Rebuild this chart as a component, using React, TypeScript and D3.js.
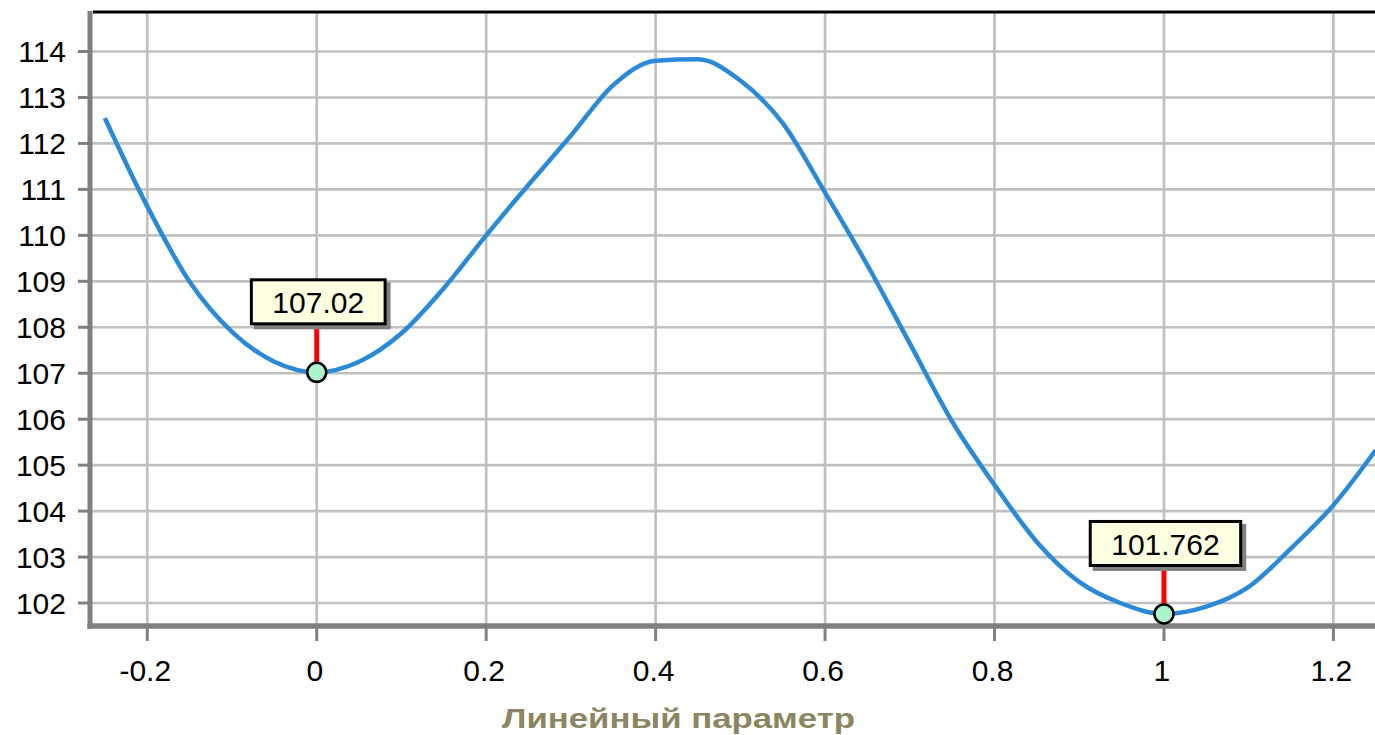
import React from "react";
import * as d3 from "d3";

// sampled curve (step 0.05)
const xValues = [
  -0.25, -0.2, -0.15, -0.1, -0.05, 0, 0.05, 0.1, 0.15, 0.2, 0.25, 0.3, 0.35, 0.4, 0.45, 0.5,
  0.55, 0.6, 0.65, 0.7, 0.75, 0.8, 0.85, 0.9, 0.95, 1.0, 1.05, 1.1, 1.15, 1.2, 1.25,
];
const yValues = [
  112.55, 110.63, 108.99, 107.9, 107.25, 107.02, 107.25, 107.87, 108.85, 110.0, 111.1, 112.17,
  113.27, 113.8, 113.83, 113.37, 112.44, 110.93, 109.35, 107.65, 105.95, 104.57, 103.33, 102.46,
  101.99, 101.762, 101.92, 102.35, 103.19, 104.13, 105.33,
];

const xTicks = [-0.2, 0, 0.2, 0.4, 0.6, 0.8, 1, 1.2];
const yTicks = [102, 103, 104, 105, 106, 107, 108, 109, 110, 111, 112, 113, 114];

const markerX = [0, 1];
const markerLabels = ["107.02", "101.762"];

const axisTitle = "Линейный параметр";

const W = 1375;
const H = 735;
const left = 90;
const right = 1375;
const top = 12;
const bottom = 626;

const FONT = "'Liberation Sans', Arial, sans-serif";

function textWidth(s: string, size: number) {
  let w = 0;
  for (const c of s) w += c === "." ? 0.278 : 0.556;
  return w * size;
}

export default function App() {
  const x = d3.scaleLinear().domain([-0.2676, 1.2491]).range([left, right]);
  const y = d3.scaleLinear().domain([101.5, 114.86]).range([bottom, top]);

  const data = xValues.map((v, i) => [v, yValues[i]] as [number, number]);
  const line = d3
    .line<[number, number]>()
    .curve(d3.curveMonotoneX)
    .x(d => x(d[0]))
    .y(d => y(d[1]));

  return (
    <div style={{ position: "absolute", left: 0, top: 0 }}>
      <svg width={W} height={H} style={{ display: "block", background: "#fff" }}>
        <defs>
          <clipPath id="plot">
            <rect x={left} y={top} width={right - left} height={bottom - top} />
          </clipPath>
        </defs>

        {/* grid */}
        {yTicks.map(t => (
          <line key={`gy${t}`} x1={left} x2={right} y1={y(t)} y2={y(t)} stroke="#c0c0c0" strokeWidth={2.7} />
        ))}
        {xTicks.map(t => (
          <line key={`gx${t}`} x1={x(t)} x2={x(t)} y1={top} y2={bottom} stroke="#c0c0c0" strokeWidth={2.7} />
        ))}

        {/* frame */}
        <line x1={left + 3} x2={right} y1={top} y2={top} stroke="#000" strokeWidth={3} />
        <line x1={left} x2={left} y1={top - 1} y2={bottom + 3} stroke="#808080" strokeWidth={5} />
        <line x1={left - 2.5} x2={right} y1={bottom} y2={bottom} stroke="#808080" strokeWidth={5.5} />

        {/* ticks */}
        {yTicks.map(t => (
          <g key={`ty${t}`}>
            <line x1={left - 12} x2={left} y1={y(t)} y2={y(t)} stroke="#808080" strokeWidth={3} />
            <text x={66} y={y(t) + 10.5} textAnchor="end" fontFamily={FONT} fontSize={30} fill="#000">
              {t}
            </text>
          </g>
        ))}
        {xTicks.map(t => (
          <g key={`tx${t}`}>
            <line x1={x(t)} x2={x(t)} y1={bottom} y2={bottom + 15} stroke="#808080" strokeWidth={3} />
            <text x={x(t) - 2} y={681} textAnchor="middle" fontFamily={FONT} fontSize={30} fill="#000">
              {String(t)}
            </text>
          </g>
        ))}

        {/* curve */}
        <path
          d={line(data) || ""}
          fill="none"
          stroke="#2b8ad8"
          strokeWidth={4.5}
          strokeLinejoin="round"
          clipPath="url(#plot)"
        />

        {/* markers with callouts */}
        {markerX.map((mx, i) => {
          const idx = xValues.findIndex(v => Math.abs(v - mx) < 1e-9);
          const cx = x(mx);
          const cy = y(yValues[idx]);
          const label = markerLabels[i];
          const bw = textWidth(label, 30) + 45;
          const bh = 47;
          const by = cy - 47 - bh;
          const bx = cx + 1.5 - bw / 2;
          return (
            <g key={`m${i}`}>
              <line x1={cx} x2={cx} y1={by + bh} y2={cy - 8} stroke="#ff0000" strokeWidth={5} />
              <rect x={bx + 4} y={by + 4} width={bw} height={bh} fill="#808080" />
              <rect x={bx + 1.5} y={by + 1.5} width={bw - 3} height={bh - 3} fill="#ffffe1" stroke="#000" strokeWidth={3} />
              <text x={bx + bw / 2} y={by + 35} textAnchor="middle" fontFamily={FONT} fontSize={30} fill="#000">
                {label}
              </text>
              <circle cx={cx} cy={cy} r={9.5} fill="#acf5c8" stroke="#000" strokeWidth={2.5} />
            </g>
          );
        })}

        {/* axis title */}
        <text
          x={678.5}
          y={728}
          textAnchor="middle"
          fontFamily={FONT}
          fontWeight="bold"
          fontSize={27}
          fill="#8b8560"
          textLength={353}
          lengthAdjust="spacingAndGlyphs"
        >
          {axisTitle}
        </text>
      </svg>
    </div>
  );
}
